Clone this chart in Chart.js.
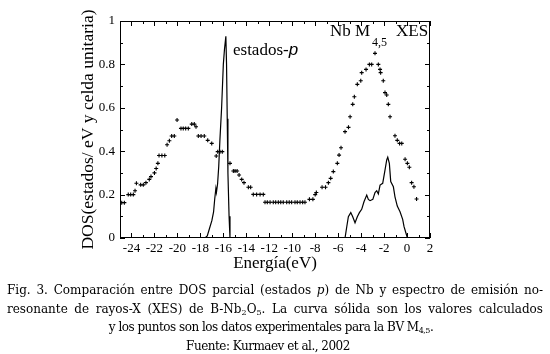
<!DOCTYPE html>
<html lang="es">
<head>
<meta charset="utf-8">
<title>DOS parcial Nb - XES</title>
<script src="https://cdn.jsdelivr.net/npm/chart.js@4.4.1/dist/chart.umd.min.js"></script>
<style>
  html, body { margin: 0; padding: 0; background: #fff; }
  #wrap { position: relative; width: 550px; height: 354px; overflow: hidden; }
  #wrap canvas { position: absolute; left: 0; top: 0; }
  .cap { position: absolute; font-family: "DejaVu Serif", serif; font-size: 12px; line-height: 18px; color: #000; white-space: nowrap; letter-spacing: -0.5px; }
  .just { left: 7px; width: 536px; letter-spacing: 0; text-align: justify; text-align-last: justify; white-space: normal; }
  .mid { left: 0; width: 542px; text-align: center; }
  .cap sub { font-size: 8px; line-height: 0; vertical-align: -2px; }
</style>
</head>
<body>
<div id="wrap">
  <canvas id="chart" width="550" height="354"></canvas>
  <div class="cap just" style="top:281px">Fig. 3. Comparación entre DOS parcial (estados <i>p</i>) de Nb y espectro de emisión no-</div>
  <div class="cap just" style="top:300px">resonante de rayos-X (XES) de B-Nb<sub>2</sub>O<sub>5</sub>. La curva sólida son los valores calculados</div>
  <div class="cap mid" style="top:318px">y los puntos son los datos experimentales para la BV M<sub>4,5</sub>.</div>
  <div class="cap mid" style="top:337px; width:536px">Fuente: Kurmaev et al., 2002</div>
</div>
<script>
// tick labels
const xTicks = [-24, -22, -20, -18, -16, -14, -12, -10, -8, -6, -4, -2, 0, 2];
const yTicks = [0, 0.2, 0.4, 0.6, 0.8, 1];

// experimental XES points (Nb M4,5)
const xesE = [-24.85, -24.62, -24.28, -24.07, -23.84, -23.69, -23.57, -23.2, -22.97, -22.74,
  -22.45, -22.3, -22.0, -21.85, -21.7, -21.6, -21.35, -21.1, -20.9, -20.7,
  -20.5, -20.27, -20.03, -19.69, -19.49, -19.28, -19.05, -18.75, -18.53, -18.38,
  -18.18, -17.94, -17.66, -17.36, -17.01, -16.62, -16.49, -16.29, -16.09, -15.42,
  -15.13, -14.98, -14.8, -14.63, -14.4, -14.2, -13.82, -13.62, -13.39, -13.1,
  -12.8, -12.52, -12.37, -12.17, -11.93, -11.65, -11.44, -11.21, -11.0, -10.78,
  -10.48, -10.26, -10.05, -9.76, -9.56, -9.32, -9.09, -8.89, -8.5, -8.2,
  -8.0, -7.9, -7.4, -7.1, -6.85, -6.65, -6.42, -6.07, -5.92, -5.75,
  -5.4, -5.1, -4.96, -4.73, -4.59, -4.33, -4.03, -3.95, -3.57, -3.28,
  -3.08, -2.79, -2.5, -2.35, -2.3, -2.07, -1.92, -1.77, -1.63, -1.48,
  -1.05, -0.85, -0.65, -0.46, -0.17, 0.03, 0.2, 0.4, 0.6, 0.83];
const xesDos = [0.163, 0.163, 0.2, 0.2, 0.2, 0.218, 0.252, 0.245, 0.245, 0.255,
  0.27, 0.283, 0.3, 0.32, 0.344, 0.38, 0.38, 0.38, 0.43, 0.448,
  0.47, 0.47, 0.544, 0.505, 0.505, 0.505, 0.505, 0.525, 0.525, 0.513,
  0.47, 0.47, 0.47, 0.45, 0.436, 0.378, 0.398, 0.398, 0.398, 0.344,
  0.309, 0.309, 0.309, 0.29, 0.27, 0.255, 0.234, 0.234, 0.201, 0.201,
  0.201, 0.201, 0.165, 0.165, 0.165, 0.165, 0.165, 0.165, 0.165, 0.165,
  0.165, 0.165, 0.165, 0.165, 0.165, 0.165, 0.165, 0.165, 0.178, 0.178,
  0.2, 0.21, 0.234, 0.234, 0.255, 0.275, 0.306, 0.344, 0.382, 0.416,
  0.49, 0.51, 0.559, 0.616, 0.651, 0.708, 0.725, 0.762, 0.777, 0.8,
  0.8, 0.851, 0.8, 0.777, 0.762, 0.725, 0.67, 0.659, 0.616, 0.559,
  0.471, 0.45, 0.436, 0.436, 0.363, 0.344, 0.326, 0.255, 0.236, 0.18];

// calculated partial DOS (p states)
const calcE = [-17.6, -17.4, -17.2, -17.0, -16.85, -16.75, -16.65, -16.6, -16.5, -16.4,
  -16.3, -16.15, -16.0, -15.9, -15.78, -15.72, -15.66, -15.6, -15.5, -15.42,
  -10,
  -5.4, -5.25, -5.11, -4.9, -4.73, -4.53, -4.33, -4.15, -3.95, -3.75,
  -3.51, -3.37, -3.22, -2.98, -2.79, -2.64, -2.5, -2.35, -2.12, -1.92,
  -1.77, -1.68, -1.54, -1.42, -1.19, -1.05, -0.85, -0.61, -0.38, -0.26,
  -0.09, 0.03];
const calcDos = [0, 0.01, 0.045, 0.08, 0.12, 0.18, 0.228, 0.21, 0.25, 0.33,
  0.45, 0.6, 0.8, 0.87, 0.93, 0.8, 0.55, 0.3, 0.1, 0,
  null,
  0, 0.052, 0.098, 0.117, 0.098, 0.07, 0.098, 0.117, 0.132, 0.167,
  0.198, 0.178, 0.172, 0.178, 0.209, 0.218, 0.203, 0.244, 0.252, 0.313,
  0.36, 0.372, 0.344, 0.26, 0.236, 0.19, 0.147, 0.121, 0.086, 0.052,
  0.022, 0];

const serif = '"Liberation Serif", "Times New Roman", serif';

// box, inward ticks and the two labels inside the plot
const frameTicks = {
  id: 'frameTicks',
  afterDatasetsDraw(chart) {
    const { ctx, chartArea: a, scales: { x, y } } = chart;
    ctx.save();
    ctx.strokeStyle = '#000';
    ctx.lineWidth = 1;
    ctx.strokeRect(a.left + 0.5, a.top + 0.5, a.right - a.left - 1, a.bottom - a.top - 1);
    ctx.beginPath();
    for (let v = Math.ceil(x.min); v <= x.max; v++) {
      const px = Math.round(x.getPixelForValue(v)) + 0.5;
      const len = v % 2 === 0 ? 5 : 3;
      ctx.moveTo(px, a.bottom); ctx.lineTo(px, a.bottom - len);
      ctx.moveTo(px, a.top); ctx.lineTo(px, a.top + len);
    }
    for (let i = 0; i <= 10; i++) {
      const py = Math.round(y.getPixelForValue(i / 10)) + 0.5;
      const len = i % 2 === 0 ? 5 : 3;
      ctx.moveTo(a.left, py); ctx.lineTo(a.left + len, py);
      ctx.moveTo(a.right, py); ctx.lineTo(a.right - len, py);
    }
    ctx.stroke();

    ctx.fillStyle = '#000';
    ctx.textBaseline = 'alphabetic';
    // estados-p
    let px = x.getPixelForValue(-15.16), py = y.getPixelForValue(0.843);
    ctx.font = '17px ' + serif;
    ctx.fillText('estados-', px, py);
    const w = ctx.measureText('estados-').width;
    ctx.font = 'italic 17px "Liberation Sans", Arial, sans-serif';
    ctx.fillText('p', px + w, py);
    // Nb M 4,5 XES
    ctx.font = '17px ' + serif;
    ctx.fillText('Nb M', x.getPixelForValue(-6.71), y.getPixelForValue(0.931));
    ctx.fillText('XES', x.getPixelForValue(-0.96), y.getPixelForValue(0.931));
    ctx.font = '12px ' + serif;
    ctx.fillText('4,5', x.getPixelForValue(-3.05), y.getPixelForValue(0.885));
    ctx.restore();
  }
};

new Chart(document.getElementById('chart'), {
  type: 'scatter',
  data: {
    datasets: [
      {
        label: 'XES',
        data: xesE.map((e, i) => ({ x: e, y: xesDos[i] })),
        showLine: false,
        pointStyle: 'cross',
        pointRadius: 2,
        borderWidth: 1.1,
        borderColor: '#000',
        backgroundColor: '#000'
      },
      {
        label: 'DOS calculada',
        data: calcE.map((e, i) => ({ x: e, y: calcDos[i] })),
        showLine: true,
        spanGaps: false,
        pointRadius: 0,
        borderWidth: 1.2,
        borderColor: '#000',
        tension: 0
      }
    ]
  },
  options: {
    responsive: false,
    animation: false,
    layout: { padding: { left: 0, top: 21, right: 120, bottom: 76 } },
    plugins: { legend: { display: false }, tooltip: { enabled: false } },
    scales: {
      x: {
        type: 'linear', min: -25, max: 2,
        grid: { display: false, drawTicks: false },
        border: { display: false },
        afterBuildTicks: s => { s.ticks = xTicks.map(v => ({ value: v })); },
        afterFit: s => { s.height = 40; },
        ticks: { font: { family: serif, size: 13 }, color: '#000', padding: 3, maxRotation: 0, autoSkip: false, callback: v => String(v) },
        title: { display: true, text: 'Energía(eV)', font: { family: serif, size: 17 }, color: '#000', padding: { top: 0, bottom: 4 } }
      },
      y: {
        type: 'linear', min: 0, max: 1,
        grid: { display: false, drawTicks: false },
        border: { display: false },
        afterBuildTicks: s => { s.ticks = yTicks.map(v => ({ value: v })); },
        afterFit: s => { s.width = 120; },
        ticks: { font: { family: serif, size: 13 }, color: '#000', padding: 5, autoSkip: false, callback: v => String(v) },
        title: { display: true, text: 'DOS(estados/ eV y celda unitaria)', font: { family: serif, size: 17.5 }, color: '#000', padding: { top: 78, bottom: 0 } }
      }
    }
  },
  plugins: [frameTicks]
});
</script>
</body>
</html>
